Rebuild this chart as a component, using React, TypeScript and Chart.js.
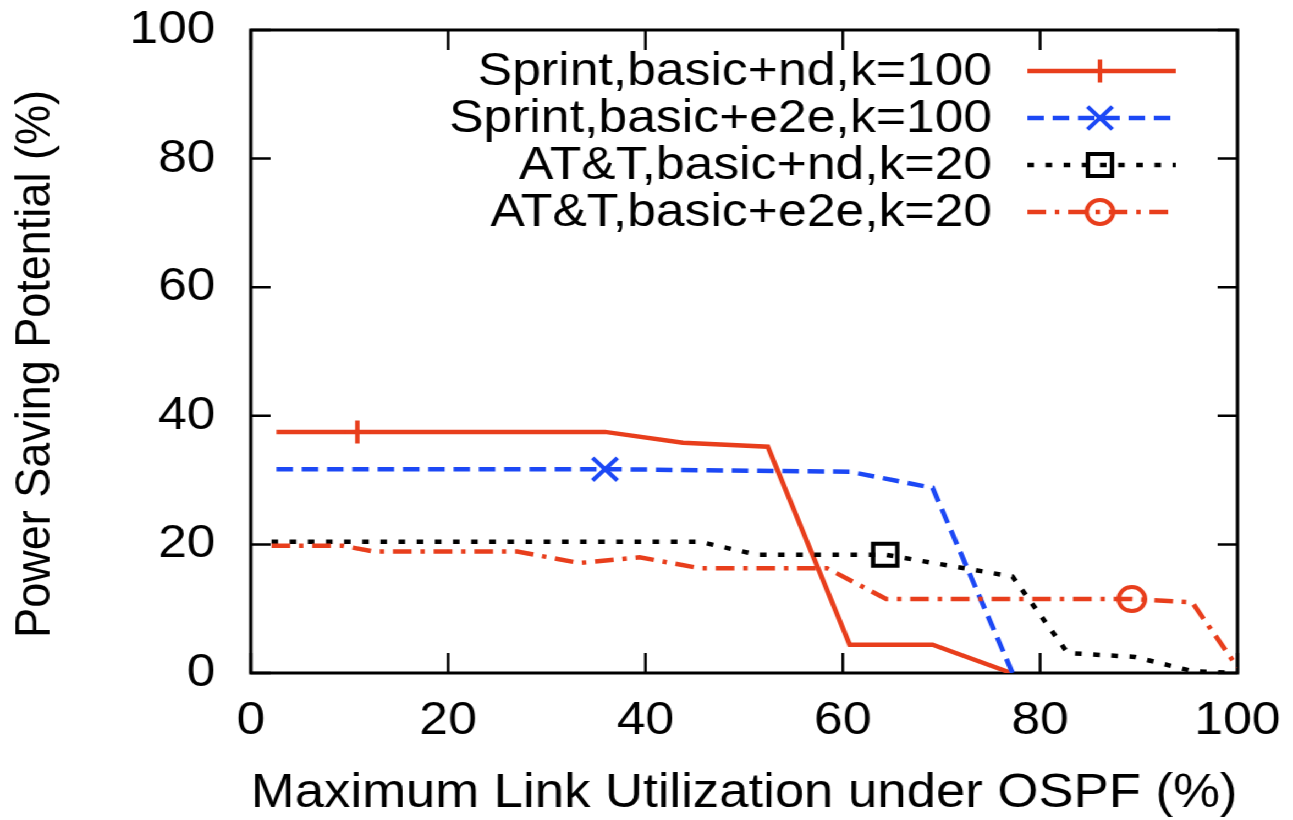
import React, { useEffect, useRef } from "react";
import { Chart, registerables } from "chart.js";
import { drawPoint } from "chart.js/helpers";

Chart.register(...registerables);

// ---------- data ----------
const SERIES_LABELS = [
  "Sprint,basic+nd,k=100",
  "Sprint,basic+e2e,k=100",
  "AT&T,basic+nd,k=20",
  "AT&T,basic+e2e,k=20",
];

const X_SPRINT_ND = [2.6, 10.8, 35.9, 43.8, 52.4, 60.7, 69.1, 77.1];
const Y_SPRINT_ND = [37.5, 37.5, 37.5, 35.8, 35.2, 4.4, 4.4, 0];

const X_SPRINT_E2E = [2.6, 35.9, 60.7, 69.1, 77.2];
const Y_SPRINT_E2E = [31.7, 31.7, 31.3, 28.8, 0];

const X_ATT_ND = [2.1, 45.5, 51.3, 64.3, 77.2, 82.8, 89.6, 95.4, 100];
const Y_ATT_ND = [20.4, 20.4, 18.4, 18.4, 15.0, 3.1, 2.5, 0.3, 0];

const X_ATT_E2E = [2.1, 9.3, 12.4, 27.0, 33.3, 39.4, 45.5, 58.4, 64.4, 89.3, 95.4, 100];
const Y_ATT_E2E = [19.8, 19.8, 18.9, 18.9, 17.1, 18.0, 16.3, 16.3, 11.5, 11.5, 11.0, 0.9];

const MARKER_INDEX = [1, 1, 3, 9];

const X_TICKS = [0, 20, 40, 60, 80, 100];
const Y_TICKS = [0, 20, 40, 60, 80, 100];

const X_TITLE = "Maximum Link Utilization under OSPF (%)";
const Y_TITLE = "Power Saving Potential (%)";

// ---------- style ----------
const W = 1175;
const H = 820;
const FONT = '"Liberation Sans", Arial, Helvetica, sans-serif';
const RED = "rgb(232,62,28)";
const BLUE = "rgb(28,72,245)";
const LINE_W = 4.5;

const STYLES = [
  { color: RED, dash: [] as number[], pointStyle: "cross", radius: 11.5 },
  { color: BLUE, dash: [15, 8], pointStyle: "crossRot", radius: 16 },
  { color: "#000", dash: [6, 10.5], pointStyle: "rect", radius: 15.5 },
  { color: RED, dash: [17, 8, 4, 8], pointStyle: "circle", radius: 12 },
];

const toPts = (xs: number[], ys: number[]) => xs.map((x, i) => ({ x, y: ys[i] }));
const SERIES = [
  toPts(X_SPRINT_ND, Y_SPRINT_ND),
  toPts(X_SPRINT_E2E, Y_SPRINT_E2E),
  toPts(X_ATT_ND, Y_ATT_ND),
  toPts(X_ATT_E2E, Y_ATT_E2E),
];

const LEGEND_ROWS_Y = [71, 118, 165, 212];

const boxPlugin = {
  id: "gnuplotBox",
  beforeDatasetsDraw(chart: any) {
    const { ctx, chartArea: a, scales } = chart;
    ctx.save();
    ctx.setLineDash([]);
    ctx.strokeStyle = "#000";
    ctx.lineWidth = 2.5;
    ctx.beginPath();
    for (const v of X_TICKS) {
      const px = scales.x.getPixelForValue(v);
      ctx.moveTo(px, a.bottom);
      ctx.lineTo(px, a.bottom - 20);
      ctx.moveTo(px, a.top);
      ctx.lineTo(px, a.top + 20);
    }
    for (const v of Y_TICKS) {
      const py = scales.y.getPixelForValue(v);
      ctx.moveTo(a.left, py);
      ctx.lineTo(a.left + 18, py);
      ctx.moveTo(a.right, py);
      ctx.lineTo(a.right - 18, py);
    }
    ctx.stroke();
    ctx.lineWidth = 3;
    ctx.strokeRect(a.left, a.top, a.right - a.left, a.bottom - a.top);

    // y title
    ctx.fillStyle = "#000";
    ctx.font = `45px ${FONT}`;
    ctx.textAlign = "center";
    ctx.textBaseline = "middle";
    ctx.translate(32.5, 364);
    ctx.rotate(-Math.PI / 2);
    ctx.fillText(Y_TITLE, 0, 0);
    ctx.restore();
  },
  afterDatasetsDraw(chart: any) {
    const { ctx } = chart;
    ctx.save();
    chart.data.datasets.forEach((ds: any, i: number) => {
      const y = LEGEND_ROWS_Y[i];
      ctx.fillStyle = "#000";
      ctx.font = `47px ${FONT}`;
      ctx.textAlign = "right";
      ctx.textBaseline = "middle";
      ctx.fillText(ds.label, 902, y + 1);
      ctx.strokeStyle = ds.borderColor;
      ctx.lineWidth = ds.borderWidth;
      ctx.setLineDash(ds.borderDash || []);
      ctx.beginPath();
      ctx.moveTo(934, y);
      ctx.lineTo(1069, y);
      ctx.stroke();
      ctx.setLineDash([]);
      ctx.fillStyle = "rgba(0,0,0,0)";
      ctx.strokeStyle = ds.borderColor;
      ctx.lineWidth = ds.pointBorderWidth;
      drawPoint(
        ctx,
        { pointStyle: ds.pointStyle, radius: STYLES[i].radius, rotation: 0, borderWidth: ds.pointBorderWidth } as any,
        1000,
        y
      );
    });
    ctx.restore();
  },
};

export default function App() {
  const ref = useRef<HTMLCanvasElement | null>(null);

  useEffect(() => {
    if (!ref.current) return;
    const tickFont = { family: FONT, size: 47 };
    const chart = new Chart(ref.current, {
      type: "line",
      data: {
        datasets: SERIES.map((pts, i) => ({
          label: SERIES_LABELS[i],
          data: pts,
          borderColor: STYLES[i].color,
          backgroundColor: "rgba(0,0,0,0)",
          borderWidth: LINE_W,
          borderDash: STYLES[i].dash,
          borderCapStyle: "butt",
          borderJoinStyle: "miter",
          tension: 0,
          fill: false,
          pointStyle: STYLES[i].pointStyle as any,
          pointBorderColor: STYLES[i].color,
          pointBackgroundColor: "rgba(0,0,0,0)",
          pointBorderWidth: 4,
          pointRadius: (c: any) => (c.dataIndex === MARKER_INDEX[i] ? STYLES[i].radius : 0),
          pointHoverRadius: 0,
          order: 4 - i,
        })),
      },
      options: {
        animation: false,
        responsive: false,
        devicePixelRatio: 1,
        layout: { padding: { left: 0, right: 50, top: 30, bottom: 0 } },
        plugins: { legend: { display: false }, tooltip: { enabled: false } },
        scales: {
          x: {
            type: "linear",
            min: 0,
            max: 100,
            afterFit: (s: any) => {
              s.height = 147;
              s.paddingLeft = 0;
              s.paddingRight = 0;
            },
            afterBuildTicks: (s: any) => {
              s.ticks = X_TICKS.map((v) => ({ value: v }));
            },
            grid: { display: false, drawTicks: false },
            border: { display: false },
            ticks: { font: tickFont, color: "#000", padding: 20, maxRotation: 0, autoSkip: false },
            title: {
              display: true,
              text: X_TITLE,
              color: "#000",
              font: { family: FONT, size: 48, lineHeight: 1.1 },
              padding: { top: 0, bottom: 0 },
            },
          },
          y: {
            type: "linear",
            min: 0,
            max: 100,
            afterFit: (s: any) => {
              s.width = 228;
              s.paddingTop = 0;
              s.paddingBottom = 0;
            },
            afterBuildTicks: (s: any) => {
              s.ticks = Y_TICKS.map((v) => ({ value: v }));
            },
            grid: { display: false, drawTicks: false },
            border: { display: false },
            ticks: { font: tickFont, color: "#000", padding: 32, autoSkip: false },
            title: { display: false },
          },
        },
      },
      plugins: [boxPlugin],
    } as any);
    return () => chart.destroy();
  }, []);

  return (
    <div
      style={{
        position: "fixed",
        left: 0,
        top: 0,
        width: W,
        height: H,
        transform: "scaleX(1.1)",
        transformOrigin: "0 0",
        background: "#fff",
      }}
    >
      <canvas ref={ref} width={W} height={H} style={{ display: "block", width: W, height: H }} />
    </div>
  );
}
